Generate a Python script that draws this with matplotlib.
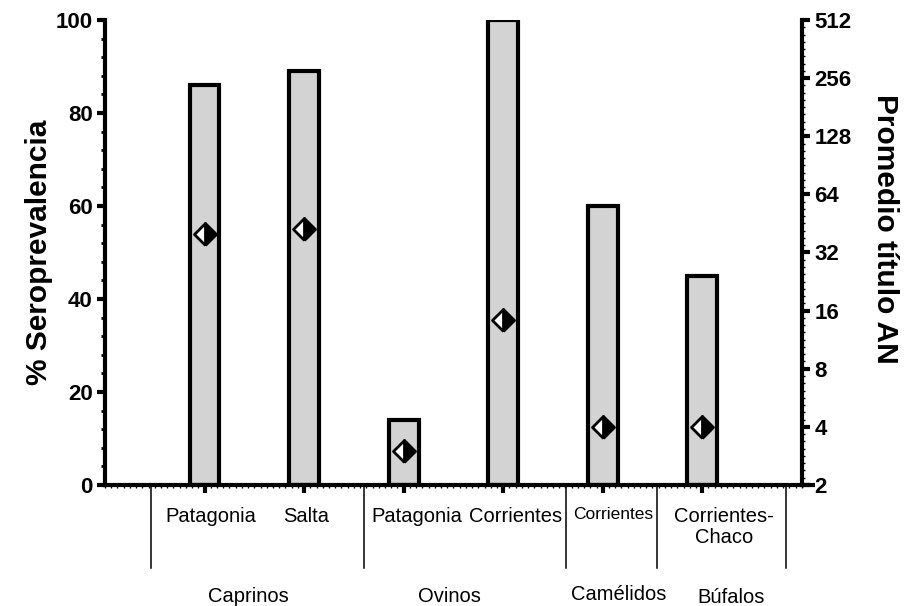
import numpy as np
import matplotlib
matplotlib.use('Agg')
import matplotlib.pyplot as plt
from matplotlib.markers import MarkerStyle
from matplotlib.ticker import MultipleLocator, FixedLocator, FixedFormatter, NullFormatter

plt.rcParams['font.family'] = ['Liberation Sans', 'DejaVu Sans']

# seroprevalencia por especie / region
regions = ['Patagonia', 'Salta', 'Patagonia', 'Corrientes', 'Corrientes', 'Corrientes-\nChaco']
seroprev = [86, 89, 14, 100, 60, 45]
titulo = [40, 42.5, 3, 14.3, 4, 4]
groups = ['Caprinos', 'Ovinos', 'Camélidos', 'Búfalos']
titulo_ticks = [2, 4, 8, 16, 32, 64, 128, 256, 512]

xpos = np.arange(1, len(regions) + 1)

fig = plt.figure(figsize=(9.06, 6.06), dpi=100)
ax = fig.add_axes([0.1159, 0.1997, 0.7691, 0.7673])

ax.bar(xpos, seroprev, width=0.3, color='#d3d3d3', edgecolor='black', linewidth=3, zorder=2)
ax.set_xlim(0, 7)
ax.set_ylim(0, 100)

ax.spines['top'].set_visible(False)
ax.spines['right'].set_visible(False)
for s in ['left', 'bottom']:
    ax.spines[s].set_linewidth(3)
# el eje x se prolonga un poco pasando el eje derecho
ax.plot([7, 7.13], [0, 0], color='black', linewidth=3, clip_on=False, solid_capstyle='butt')

ax.yaxis.set_major_locator(MultipleLocator(20))
ax.yaxis.set_minor_locator(MultipleLocator(4))
ax.tick_params(axis='y', which='major', length=6, width=3, labelsize=16, pad=3)
ax.tick_params(axis='y', which='minor', length=3, width=2)
for t in ax.get_yticklabels():
    t.set_fontweight('bold')
ax.set_ylabel('% Seroprevalencia', fontsize=21.5, fontweight='bold', labelpad=2)

ax.set_xticks(xpos)
ax.set_xticklabels([])
ax.xaxis.set_minor_locator(MultipleLocator(1 / 16))
ax.tick_params(axis='x', which='major', length=6, width=3)
ax.tick_params(axis='x', which='minor', length=2.5, width=1)

# etiquetas de region bajo cada barra
label_x = [1.06, 2.02, 3.13, 4.12, 5.11, 6.22]
label_size = [14.5, 14.5, 14.5, 14.5, 12.5, 14.5]
for x, txt, fs in zip(label_x, regions, label_size):
    ax.text(x, -0.048, txt, transform=ax.get_xaxis_transform(), ha='center', va='top',
            fontsize=fs, linespacing=1.1)

# separadores de grupo
for x in [0.46, 2.6, 4.63, 5.55, 6.84]:
    ax.plot([x, x], [0, -0.178], transform=ax.get_xaxis_transform(), color='black',
            linewidth=1.1, clip_on=False)

group_x = [1.44, 3.46, 5.16, 6.29]
group_y = [-0.252, -0.252, -0.247, -0.254]
for x, y, txt in zip(group_x, group_y, groups):
    ax.text(x, y, txt, transform=ax.get_xaxis_transform(), ha='center', va='baseline',
            fontsize=14.5)

# eje derecho: titulo de anticuerpos (log2)
ax2 = ax.twinx()
ax2.set_yscale('log', base=2)
ax2.set_ylim(2, 512)
diamond = MarkerStyle('D', fillstyle='right', joinstyle='round')
ax2.plot(xpos, titulo, linestyle='none', marker=diamond, markersize=11.5, markeredgewidth=2,
         markeredgecolor='black', markerfacecolor='black', markerfacecoloralt='white',
         zorder=3)
ax2.spines['top'].set_visible(False)
ax2.spines['left'].set_visible(False)
ax2.spines['bottom'].set_visible(False)
ax2.spines['right'].set_linewidth(3)
ax2.yaxis.set_major_locator(FixedLocator(titulo_ticks))
ax2.yaxis.set_major_formatter(FixedFormatter([str(v) for v in titulo_ticks]))
minor = [2 ** (k + i / 8) for k in range(1, 9) for i in range(1, 8)]
ax2.yaxis.set_minor_locator(FixedLocator(minor))
ax2.yaxis.set_minor_formatter(NullFormatter())
ax2.tick_params(axis='y', which='major', length=6, width=3, labelsize=16, pad=3)
ax2.tick_params(axis='y', which='minor', length=2, width=1)
for t in ax2.get_yticklabels():
    t.set_fontweight('bold')
ax2.set_ylabel('Promedio título AN', fontsize=21.5, fontweight='bold', rotation=-90,
               labelpad=34)
ax2.yaxis.label.set_y(0.55)

fig.savefig('out.png', dpi=100)
